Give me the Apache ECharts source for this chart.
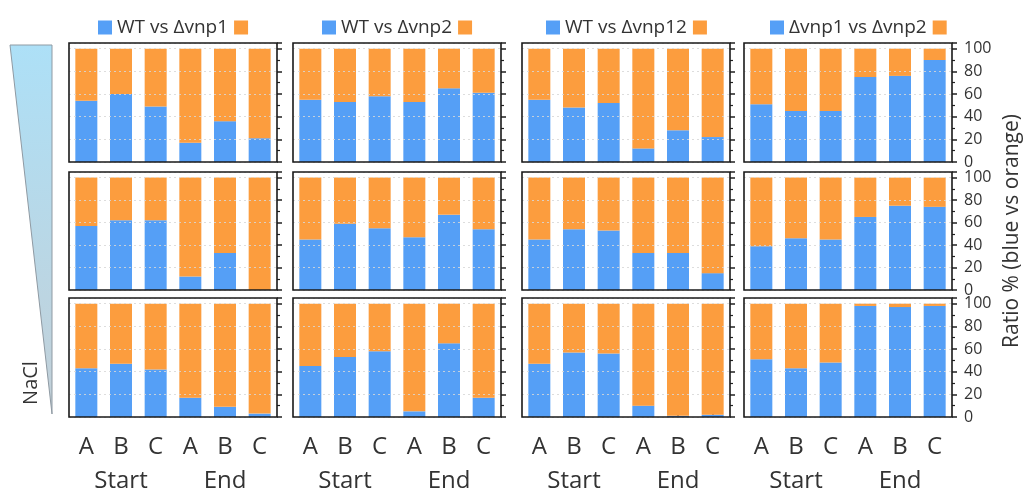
<!DOCTYPE html>
<html>
<head>
<meta charset="utf-8">
<script src="https://cdn.jsdelivr.net/npm/echarts@6/dist/echarts.min.js"></script>
<style>
html,body{margin:0;padding:0;background:#fff;}
#chart{width:1034px;height:493px;}
</style>
</head>
<body>
<div id="chart"></div>
<script>
// ---- data ----
const categories = ['A', 'B', 'C', 'A', 'B', 'C'];
const phases = ['Start', 'End'];
const comparisons = ['WT vs \u0394vnp1', 'WT vs \u0394vnp2', 'WT vs \u0394vnp12', '\u0394vnp1 vs \u0394vnp2'];
const yTickValues = [0, 20, 40, 60, 80, 100];
const axisTitle = 'Ratio % (blue vs orange)';
const gradientLabel = 'NaCl';

// blue share (%) per panel: rows = NaCl level (top -> bottom), columns = comparison
const vnp1Row1 = [54, 60, 49, 17, 36, 21];
const vnp2Row1 = [55, 53, 58, 53, 65, 61];
const vnp12Row1 = [55, 48, 52, 12, 28, 22];
const vnp1vs2Row1 = [51, 45, 45, 75, 76, 90];

const vnp1Row2 = [57, 62, 62, 12, 33, 0];
const vnp2Row2 = [45, 59, 55, 47, 67, 54];
const vnp12Row2 = [45, 54, 53, 33, 33, 15];
const vnp1vs2Row2 = [39, 46, 45, 65, 75, 74];

const vnp1Row3 = [43, 47, 42, 17, 9, 3];
const vnp2Row3 = [45, 53, 58, 5, 65, 17];
const vnp12Row3 = [47, 57, 56, 10, 1, 2];
const vnp1vs2Row3 = [51, 43, 48, 98, 97, 98];

const panelRows = [
  [vnp1Row1, vnp2Row1, vnp12Row1, vnp1vs2Row1],
  [vnp1Row2, vnp2Row2, vnp12Row2, vnp1vs2Row2],
  [vnp1Row3, vnp2Row3, vnp12Row3, vnp1vs2Row3]
];

// ---- layout / style ----
const BLUE = '#559ff6';
const ORANGE = '#fc9d3e';
const FONT = "'Open Sans', 'Noto Sans', sans-serif";
const colLeft = [69, 293, 522, 744];
const colWidth = 208;
const rowTop = [43, 172, 298];
const rowHeight = [119, 118, 120];

const grid = [], xAxis = [], yAxis = [], series = [], legend = [];
const ORANGE_NAME = 'orange';

let gi = 0;
for (let r = 0; r < 3; r++) {
  for (let c = 0; c < 4; c++) {
    grid.push({
      left: colLeft[c], top: rowTop[r], width: colWidth, height: rowHeight[r],
      show: true, z: 6, borderColor: '#1a1a1a', borderWidth: 1.6, backgroundColor: 'transparent'
    });
    const isBottom = r === 2;
    xAxis.push({
      type: 'category', gridIndex: gi, data: categories,
      axisLine: { show: false },
      axisTick: { show: true, inside: true, length: 3, alignWithLabel: true, lineStyle: { color: '#222', width: 1.5 } },
      axisLabel: { show: isBottom, fontSize: 24, color: '#333', margin: 18, fontFamily: FONT }
    });
    const yA = {
      type: 'value', gridIndex: gi, position: 'right', min: 0, max: 105, interval: 20, z: 3,
      axisLine: { show: false },
      axisTick: { show: true, length: 5, lineStyle: { color: '#222', width: 1.5 } },
      minorTick: { show: true, splitNumber: 2, length: 3, lineStyle: { color: '#222', width: 1.2 } },
      splitLine: { show: true, lineStyle: { color: 'rgba(215,215,215,0.85)', type: [2, 3], width: 1 } },
      axisLabel: {
        show: c === 3, fontSize: 16, color: '#333', margin: 12, fontFamily: FONT,
        formatter: function (v) { return yTickValues.indexOf(v) >= 0 ? String(v) : ''; }
      }
    };
    if (c === 3 && r === 1) {
      yA.name = axisTitle;
      yA.nameLocation = 'middle';
      yA.nameRotate = 90;
      yA.nameGap = 50;
      yA.nameTextStyle = { fontSize: 21, color: '#333', fontFamily: FONT };
    }
    yAxis.push(yA);
    const blue = panelRows[r][c];
    series.push({
      type: 'bar', name: comparisons[c], xAxisIndex: gi, yAxisIndex: gi, stack: 's' + gi,
      data: blue, barWidth: 22, itemStyle: { color: BLUE }, emphasis: { disabled: true }
    });
    series.push({
      type: 'bar', name: ORANGE_NAME, xAxisIndex: gi, yAxisIndex: gi, stack: 's' + gi,
      data: blue.map(v => 100 - v), barWidth: 22, itemStyle: { color: ORANGE }, emphasis: { disabled: true }
    });
    gi++;
  }
}

// second-level x labels (Start / End) under the bottom row
for (let c = 0; c < 4; c++) {
  xAxis.push({
    type: 'category', gridIndex: 8 + c, data: phases, position: 'bottom', offset: 34,
    axisLine: { show: false }, axisTick: { show: false },
    axisLabel: { fontSize: 24, color: '#333', margin: 18, fontFamily: FONT }
  });
}

// legends (one per column)
for (let c = 0; c < 4; c++) {
  legend.push({
    data: [comparisons[c], ORANGE_NAME],
    left: colLeft[c] + colWidth / 2, top: 13,
    icon: 'rect', itemWidth: 14, itemHeight: 14, itemGap: 6,
    selectedMode: false,
    formatter: function (name) { return name === ORANGE_NAME ? '' : name; },
    textStyle: { fontSize: 19, color: '#333', fontFamily: FONT, padding: [0, 0, 0, 0] }
  });
}

const chart = echarts.init(document.getElementById('chart'), null, { renderer: 'canvas' });
chart.setOption({
  animation: false,
  backgroundColor: '#fff',
  grid, xAxis, yAxis, series, legend,
  graphic: [
    {
      type: 'polygon', z: 0,
      shape: { points: [[10, 45], [52, 45], [52, 414]] },
      style: {
        fill: new echarts.graphic.LinearGradient(0, 0, 0, 1, [
          { offset: 0, color: '#ade0f7' },
          { offset: 1, color: '#c3d0d8' }
        ]),
        stroke: '#8f9aa3', lineWidth: 1
      }
    },
    {
      type: 'text', z: 1,
      x: 31, y: 383, rotation: Math.PI / 2,
      style: { text: gradientLabel, fontSize: 20, fill: '#333', fontFamily: FONT, align: 'center', verticalAlign: 'middle' }
    }
  ]
});

// center legends over their column
setTimeout(function () {
  const model = chart.getModel();
  const newLegends = [];
  for (let c = 0; c < 4; c++) {
    const comp = model.getComponent('legend', c);
    const view = chart.getViewOfComponentModel(comp);
    const rect = view.group.getBoundingRect();
    newLegends.push({ left: Math.round(colLeft[c] + colWidth / 2 - rect.width / 2) });
  }
  chart.setOption({ legend: newLegends });
}, 0);
</script>
</body>
</html>
